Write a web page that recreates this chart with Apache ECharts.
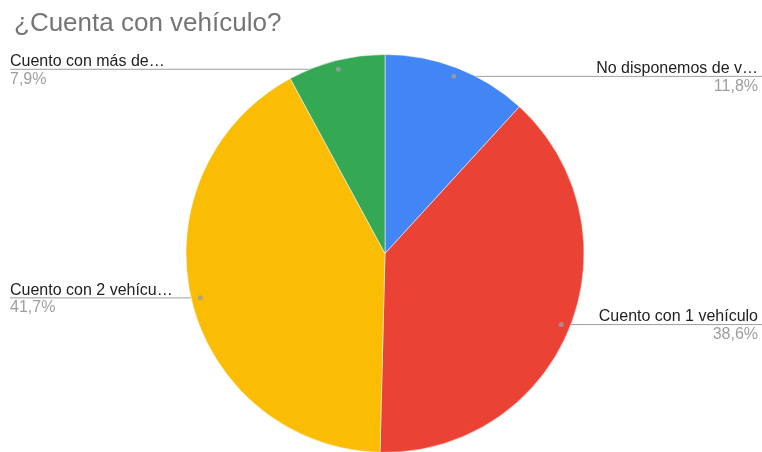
<!DOCTYPE html>
<html>
<head>
<meta charset="utf-8">
<script src="https://cdn.jsdelivr.net/npm/echarts@6/dist/echarts.min.js"></script>
<style>html,body{margin:0;padding:0;background:#fff;}#c{width:762px;height:452px;}</style>
</head>
<body>
<div id="c"></div>
<script>
const categories = ['No disponemos de v…', 'Cuento con 1 vehículo', 'Cuento con 2 vehícu…', 'Cuento con más de…'];
const values = [11.8, 38.6, 41.7, 7.9];
const pctLabels = ['11,8%', '38,6%', '41,7%', '7,9%'];
const colors = ['#4285F4', '#EA4335', '#FBBC04', '#34A853'];

const CX = 385, CY = 253.5, R = 199, DOT = 0.955;
const total = values.reduce((a, b) => a + b, 0);
const mids = [];
{ let cum = 0; values.forEach(v => { mids.push(cum + v / 2); cum += v; }); }

const chart = echarts.init(document.getElementById('c'));
const FONT = 'Liberation Sans, Arial, sans-serif';
chart.setOption({
  animation: false,
  title: { text: '¿Cuenta con vehículo?', left: 9, top: 6,
    textStyle: { fontSize: 26, color: '#757575', fontWeight: 'normal', fontFamily: FONT } },
  polar: { center: [CX, CY], radius: R },
  angleAxis: { type: 'value', min: 0, max: total, startAngle: 90, show: false },
  radiusAxis: { type: 'value', min: 0, max: 1, show: false },
  series: [{
    type: 'pie',
    center: [CX, CY],
    radius: R,
    startAngle: 90,
    avoidLabelOverlap: false,
    itemStyle: { borderColor: '#fff', borderWidth: 0.5 },
    data: categories.map((n, i) => ({ name: n, value: values[i], itemStyle: { color: colors[i] } })),
    label: {
      show: true, position: 'outside',
      formatter: p => '{n|' + p.name + '}\n{p|' + pctLabels[p.dataIndex] + '}',
      rich: {
        n: { fontSize: 16, color: '#222', fontFamily: FONT, lineHeight: 15 },
        p: { fontSize: 16, color: '#9e9e9e', fontFamily: FONT, lineHeight: 20 }
      }
    },
    labelLine: { show: true, length: 10, length2: 10, lineStyle: { color: '#9e9e9e', width: 1 } },
    labelLayout: function (p) {
      const i = p.dataIndex;
      const a = mids[i] / total * 2 * Math.PI;
      const px = CX + Math.sin(a) * R * DOT;
      const py = CY - Math.cos(a) * R * DOT;
      const right = Math.sin(a) > 0;
      const W = chart.getWidth();
      return {
        x: right ? W - 4 : 10,
        y: py - 15,
        align: right ? 'right' : 'left',
        verticalAlign: 'top',
        labelLinePoints: [[px, py], [right ? W : 10, py]]
      };
    }
  }, {
    type: 'scatter',
    coordinateSystem: 'polar',
    symbolSize: 5,
    itemStyle: { color: '#9e9e9e' },
    silent: true,
    z: 5,
    data: mids.map(m => [DOT, m])
  }]
});
</script>
</body>
</html>
